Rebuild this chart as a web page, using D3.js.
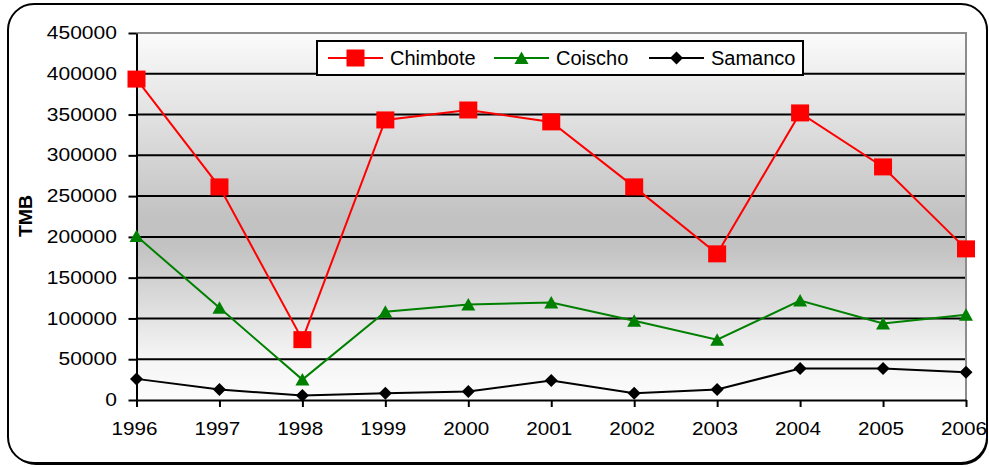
<!DOCTYPE html>
<html>
<head>
<meta charset="utf-8">
<script src="https://cdn.jsdelivr.net/npm/d3@7"></script>
<style>
  body { margin: 0; background: #fff; }
  svg { display: block; font-family: "Liberation Sans", Arial, sans-serif; }
</style>
</head>
<body>
<div class="chart-area"></div>
<script>
// data
const years = ["1996", "1997", "1998", "1999", "2000", "2001", "2002", "2003", "2004", "2005", "2006"];
const chimbote = [393500, 261300, 74000, 343400, 355600, 341000, 261300, 179200, 352000, 285800, 185300];
const coischo = [201000, 113000, 25000, 108200, 117000, 119500, 97200, 74000, 121900, 93700, 104400];
const samanco = [25900, 12900, 5500, 8200, 10400, 23900, 8200, 12900, 38600, 38600, 34100];
const yTicks = [0, 50000, 100000, 150000, 200000, 250000, 300000, 350000, 400000, 450000];
const yTitle = "TMB";

const width = 989, height = 467;
const margin = { top: 33, right: 23, bottom: 67, left: 136.5 };

const svg = d3.select(".chart-area").append("svg")
    .attr("width", width).attr("height", height);

// outer rounded frame, shadow only shows at the lower right
svg.append("rect")
    .attr("x", 10).attr("y", 6).attr("width", 978).attr("height", 459)
    .attr("rx", 26).attr("fill", "#000");
svg.append("rect")
    .attr("x", 8).attr("y", 4).attr("width", 979).attr("height", 459)
    .attr("rx", 26).attr("fill", "#fff").attr("stroke", "#000").attr("stroke-width", 2);

const x = d3.scalePoint().domain(years).range([margin.left, width - margin.right]);
const y = d3.scaleLinear().domain([0, 450000]).range([height - margin.bottom, margin.top]);

// gradient plot background
const grad = svg.append("defs").append("linearGradient")
    .attr("id", "bg").attr("x1", 0).attr("y1", 0).attr("x2", 0).attr("y2", 1);
grad.append("stop").attr("offset", "0%").attr("stop-color", "#fbfbfb");
grad.append("stop").attr("offset", "50%").attr("stop-color", "#c2c2c2");
grad.append("stop").attr("offset", "58%").attr("stop-color", "#c2c2c2");
grad.append("stop").attr("offset", "88%").attr("stop-color", "#f4f4f4");
grad.append("stop").attr("offset", "100%").attr("stop-color", "#fcfcfc");

svg.append("rect")
    .attr("x", margin.left).attr("y", y(450000))
    .attr("width", x(years[years.length - 1]) - margin.left)
    .attr("height", y(0) - y(450000))
    .attr("fill", "url(#bg)");

// gridlines
svg.append("g")
    .selectAll("line")
    .data(yTicks.filter(d => d > 0 && d < 450000))
    .join("line")
    .attr("x1", margin.left).attr("x2", x(years[years.length - 1]))
    .attr("y1", d => y(d)).attr("y2", d => y(d))
    .attr("stroke", "#000").attr("stroke-width", 2);

// gray top and right border of plot
svg.append("path")
    .attr("d", `M${margin.left},${y(450000)}H${x(years[years.length - 1])}V${y(0)}`)
    .attr("fill", "none").attr("stroke", "#8c8c8c").attr("stroke-width", 2);

// axes
const yAxis = g => g
    .attr("transform", `translate(${margin.left},0)`)
    .call(d3.axisLeft(y).tickValues(yTicks).tickSize(8).tickSizeOuter(0).tickFormat(d3.format("d")))
    .call(g => g.select(".domain").attr("stroke-width", 2))
    .call(g => g.selectAll(".tick line").attr("stroke-width", 2))
    .call(g => g.selectAll(".tick text")
        .attr("x", -16.4)
        .attr("transform", "scale(1.2,1)")
        .attr("font-size", 17.5)
        .attr("font-family", "Liberation Sans, Arial, sans-serif")
        .attr("fill", "#000"));

const xAxis = g => g
    .attr("transform", `translate(0,${y(0)})`)
    .call(d3.axisBottom(x).tickSize(7).tickSizeOuter(0))
    .call(g => g.select(".domain").attr("stroke-width", 2))
    .call(g => g.selectAll(".tick line").attr("stroke-width", 2))
    .call(g => g.selectAll(".tick text")
        .attr("x", -2.2)
        .attr("y", 35.5).attr("dy", null)
        .attr("transform", "scale(1.18,1)")
        .attr("font-size", 17.5)
        .attr("font-family", "Liberation Sans, Arial, sans-serif")
        .attr("fill", "#000"));

svg.append("g").call(xAxis);
svg.append("g").call(yAxis);

// y title
svg.append("text")
    .attr("transform", "translate(32,216) rotate(-90) scale(1.08,1)")
    .attr("text-anchor", "middle")
    .attr("font-size", 18)
    .attr("font-weight", "bold")
    .text(yTitle);

// markers
const square = "M-9,-8.5H9V8.5H-9Z";
const triangle = "M0,-6.5L7,6L-7,6Z";
const diamond = "M0,-6.5L6.5,0L0,6.5L-6.5,0Z";

const series = [
    { name: "Chimbote", values: chimbote, color: "#ff0000", marker: square },
    { name: "Coischo", values: coischo, color: "#008000", marker: triangle },
    { name: "Samanco", values: samanco, color: "#000000", marker: diamond }
];

const line = d3.line().x((d, i) => x(years[i])).y(d => y(d));

// draw bottom series first so red stays on top
series.slice().reverse().forEach(s => {
    svg.append("path")
        .datum(s.values)
        .attr("d", line)
        .attr("fill", "none")
        .attr("stroke", s.color)
        .attr("stroke-width", 2);
    svg.append("g")
        .selectAll("path")
        .data(s.values)
        .join("path")
        .attr("d", s.marker)
        .attr("transform", (d, i) => `translate(${x(years[i])},${y(d)})`)
        .attr("fill", s.color);
});

// legend
const legend = svg.append("g");
legend.append("rect")
    .attr("x", 317).attr("y", 41).attr("width", 486).attr("height", 34)
    .attr("fill", "#fff").attr("stroke", "#000").attr("stroke-width", 2);

const legendX = [328, 494, 649];
series.forEach((s, i) => {
    const lx = legendX[i];
    legend.append("line")
        .attr("x1", lx).attr("x2", lx + 55)
        .attr("y1", 58).attr("y2", 58)
        .attr("stroke", s.color).attr("stroke-width", 2);
    legend.append("path")
        .attr("d", s.marker)
        .attr("transform", `translate(${lx + 27.5},58)`)
        .attr("fill", s.color);
    legend.append("text")
        .attr("x", lx + 62).attr("y", 65)
        .attr("font-size", 20)
        .attr("fill", "#000")
        .text(s.name);
});
</script>
</body>
</html>
